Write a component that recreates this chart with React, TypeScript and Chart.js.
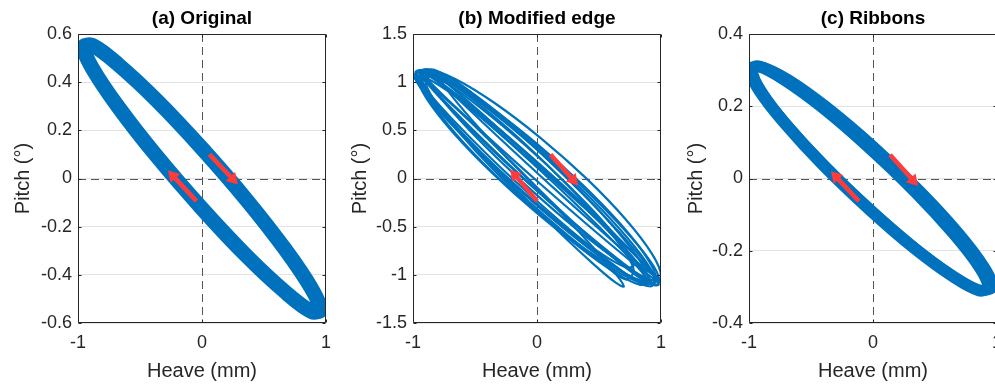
import React, { useEffect, useRef } from "react";
import { Chart, registerables } from "chart.js";
Chart.register(...registerables);

type Pt = [number, number];

const heaveTicks = [-1, 0, 1];
const pitchTicksA = [-0.6, -0.4, -0.2, 0, 0.2, 0.4, 0.6];
const pitchTicksB = [-1.5, -1, -0.5, 0, 0.5, 1, 1.5];
const pitchTicksC = [-0.4, -0.2, 0, 0.2, 0.4];

const titles = ["(a) Original", "(b) Modified edge", "(c) Ribbons"];
const xLabel = "Heave (mm)";
const yLabel = "Pitch (°)";

// (a) Original
const loopA1: Pt[] = [[0.955,-0.545],[0.882,-0.456],[0.675,-0.297],[0.366,-0.093],[0,0.125],[-0.366,0.325],[-0.675,0.473],[-0.882,0.552],[-0.955,0.545],[-0.882,0.456],[-0.675,0.297],[-0.366,0.093],[0,-0.125],[0.366,-0.325],[0.675,-0.473],[0.882,-0.552]];
const loopA2: Pt[] = [[0.96,-0.55],[0.887,-0.468],[0.679,-0.315],[0.368,-0.114],[0,0.105],[-0.368,0.308],[-0.679,0.463],[-0.887,0.548],[-0.96,0.55],[-0.887,0.468],[-0.679,0.315],[-0.368,0.114],[0,-0.105],[0.368,-0.308],[0.679,-0.463],[0.887,-0.548]];

// (b) Modified edge
const loopB1: Pt[] = [[1.0,-1.01],[0.926,-0.779],[0.716,-0.425],[0.402,-0.004],[0.03,0.42],[-0.342,0.784],[-0.656,1.031],[-0.866,1.125],[-0.94,1.05],[-0.866,0.819],[-0.656,0.465],[-0.342,0.044],[0.03,-0.38],[0.402,-0.744],[0.716,-0.991],[0.926,-1.085]];
const loopB2: Pt[] = [[0.95,-1.06],[0.878,-0.863],[0.672,-0.532],[0.364,-0.117],[0,0.32],[-0.364,0.711],[-0.672,0.996],[-0.878,1.133],[-0.95,1.1],[-0.878,0.903],[-0.672,0.572],[-0.364,0.157],[0,-0.28],[0.364,-0.671],[0.672,-0.956],[0.878,-1.093]];
const loopB3: Pt[] = [[0.88,-1.05],[0.809,-0.886],[0.608,-0.586],[0.306,-0.199],[-0.05,0.22],[-0.406,0.605],[-0.708,0.898],[-0.909,1.054],[-0.98,1.05],[-0.909,0.886],[-0.708,0.586],[-0.406,0.199],[-0.05,-0.22],[0.306,-0.605],[0.608,-0.898],[0.809,-1.054]];
const loopB4: Pt[] = [[0.98,-1.1],[0.907,-0.959],[0.699,-0.672],[0.388,-0.282],[0.02,0.15],[-0.348,0.56],[-0.659,0.884],[-0.867,1.073],[-0.94,1.1],[-0.867,0.959],[-0.659,0.672],[-0.348,0.282],[0.02,-0.15],[0.388,-0.56],[0.699,-0.884],[0.907,-1.073]];
const loopB5: Pt[] = [[0.9,-1.06],[0.832,-0.858],[0.636,-0.529],[0.345,-0.122],[0,0.3],[-0.345,0.674],[-0.636,0.941],[-0.832,1.064],[-0.9,1.02],[-0.832,0.818],[-0.636,0.489],[-0.345,0.082],[0,-0.34],[0.345,-0.714],[0.636,-0.981],[0.832,-1.104]];
const loopB6: Pt[] = [[1.0,-1.08],[0.926,-0.965],[0.716,-0.701],[0.402,-0.327],[0.03,0.1],[-0.342,0.515],[-0.656,0.855],[-0.866,1.067],[-0.94,1.12],[-0.866,1.005],[-0.656,0.741],[-0.342,0.367],[0.03,-0.06],[0.402,-0.475],[0.716,-0.815],[0.926,-1.027]];
const loopB7: Pt[] = [[0.78,-0.9],[0.713,-0.728],[0.522,-0.43],[0.237,-0.052],[-0.1,0.35],[-0.437,0.714],[-0.722,0.984],[-0.913,1.12],[-0.98,1.1],[-0.913,0.928],[-0.722,0.63],[-0.437,0.252],[-0.1,-0.15],[0.237,-0.514],[0.522,-0.784],[0.713,-0.92]];
const loopB8: Pt[] = [[0.7,-1.12],[0.635,-0.99],[0.451,-0.713],[0.176,-0.33],[-0.15,0.1],[-0.476,0.512],[-0.751,0.843],[-0.935,1.042],[-1.0,1.08],[-0.935,0.95],[-0.751,0.673],[-0.476,0.29],[-0.15,-0.14],[0.176,-0.552],[0.451,-0.883],[0.635,-1.082]];
const loopB9: Pt[] = [[0.98,-1.1],[0.913,-0.941],[0.722,-0.643],[0.437,-0.249],[0.1,0.18],[-0.237,0.579],[-0.522,0.885],[-0.713,1.055],[-0.78,1.06],[-0.713,0.901],[-0.522,0.603],[-0.237,0.209],[0.1,-0.22],[0.437,-0.619],[0.722,-0.925],[0.913,-1.095]];
const loopB10: Pt[] = [[0.98,-1.03],[0.909,-0.849],[0.705,-0.532],[0.4,-0.13],[0.04,0.3],[-0.32,0.69],[-0.625,0.98],[-0.829,1.129],[-0.9,1.11],[-0.829,0.929],[-0.625,0.612],[-0.32,0.21],[0.04,-0.22],[0.4,-0.61],[0.705,-0.9],[0.909,-1.049]];
const loopB11: Pt[] = [[0.89,-1.06],[0.82,-0.931],[0.62,-0.656],[0.322,-0.276],[-0.03,0.15],[-0.382,0.558],[-0.68,0.886],[-0.88,1.083],[-0.95,1.12],[-0.88,0.991],[-0.68,0.716],[-0.382,0.336],[-0.03,-0.09],[0.322,-0.498],[0.62,-0.826],[0.82,-1.023]];
const loopB12: Pt[] = [[0.96,-1.04],[0.887,-0.823],[0.679,-0.48],[0.368,-0.065],[0,0.36],[-0.368,0.731],[-0.679,0.99],[-0.887,1.099],[-0.96,1.04],[-0.887,0.823],[-0.679,0.48],[-0.368,0.065],[0,-0.36],[0.368,-0.731],[0.679,-0.99],[0.887,-1.099]];
const loopB13: Pt[] = [[0.95,-1.01],[0.882,-0.91],[0.686,-0.664],[0.395,-0.31],[0.05,0.1],[-0.295,0.502],[-0.586,0.834],[-0.782,1.048],[-0.85,1.11],[-0.782,1.01],[-0.586,0.764],[-0.295,0.41],[0.05,0.0],[0.395,-0.402],[0.686,-0.734],[0.882,-0.948]];
const loopB14: Pt[] = [[0.93,-1.11],[0.858,-0.949],[0.652,-0.647],[0.344,-0.246],[-0.02,0.19],[-0.384,0.596],[-0.692,0.909],[-0.898,1.083],[-0.97,1.09],[-0.898,0.929],[-0.692,0.627],[-0.384,0.226],[-0.02,-0.21],[0.344,-0.616],[0.652,-0.929],[0.858,-1.103]];
const loopB15: Pt[] = [[0.78,-0.96],[0.715,-0.775],[0.528,-0.463],[0.249,-0.072],[-0.08,0.34],[-0.409,0.71],[-0.688,0.979],[-0.875,1.109],[-0.94,1.08],[-0.875,0.895],[-0.688,0.583],[-0.409,0.192],[-0.08,-0.22],[0.249,-0.59],[0.528,-0.879],[0.715,-1.049]];

// (c) Ribbons
const loopC1: Pt[] = [[0.93,-0.3],[0.857,-0.244],[0.649,-0.152],[0.338,-0.036],[-0.03,0.085],[-0.398,0.194],[-0.709,0.272],[-0.917,0.31],[-0.99,0.3],[-0.917,0.244],[-0.709,0.152],[-0.398,0.036],[-0.03,-0.085],[0.338,-0.194],[0.649,-0.272],[0.857,-0.31]];
const loopC3: Pt[] = [[0.98,-0.3],[0.906,-0.242],[0.696,-0.147],[0.382,-0.03],[0.01,0.092],[-0.362,0.2],[-0.676,0.277],[-0.886,0.312],[-0.96,0.3],[-0.886,0.242],[-0.676,0.147],[-0.362,0.03],[0.01,-0.092],[0.382,-0.2],[0.696,-0.277],[0.906,-0.312]];
const loopC2: Pt[] = [[0.955,-0.305],[0.882,-0.253],[0.675,-0.163],[0.366,-0.048],[0,0.075],[-0.366,0.186],[-0.675,0.269],[-0.882,0.311],[-0.955,0.305],[-0.882,0.253],[-0.675,0.163],[-0.366,0.048],[0,-0.075],[0.366,-0.186],[0.675,-0.269],[0.882,-0.311]];

// arrows: [x1, y1, x2 (tip), y2 (tip)]
const arrowsA = [[0.06, 0.10, 0.29, -0.025], [-0.045, -0.094, -0.275, 0.034]];
const arrowsB = [[0.109, 0.249, 0.331, -0.073], [0.002, -0.235, -0.217, 0.093]];
const arrowsC = [[0.137, 0.066, 0.363, -0.021], [-0.114, -0.063, -0.339, 0.02]];

const BLUE = "#0072BD";
const LIGHT = "rgba(120,178,228,0.85)";
const RED = "#ff3b3b";
const FONT = '"Liberation Sans", Arial, Helvetica, sans-serif';
const TEXT = "#262626";

type LoopSpec = { pts: Pt[]; width: number; color: string };
type PanelSpec = {
  left: number;
  title: string;
  yTicks: number[];
  loops: LoopSpec[];
  arrows: number[][];
  yTitlePad: number;
};

const panels: PanelSpec[] = [
  {
    left: 0, title: titles[0], yTicks: pitchTicksA, arrows: arrowsA, yTitlePad: 11,
    loops: [{ pts: loopA1, width: 15, color: BLUE }, { pts: loopA2, width: 1, color: LIGHT }],
  },
  {
    left: 335, title: titles[1], yTicks: pitchTicksB, arrows: arrowsB, yTitlePad: 13,
    loops: [loopB1, loopB2, loopB3, loopB4, loopB5, loopB6, loopB7, loopB8, loopB9, loopB10, loopB11, loopB12, loopB13, loopB14, loopB15].map((p) => ({ pts: p, width: 2.2, color: BLUE })),
  },
  {
    left: 671, title: titles[2], yTicks: pitchTicksC, arrows: arrowsC, yTitlePad: 13,
    loops: [
      { pts: loopC1, width: 12, color: BLUE },
      { pts: loopC3, width: 8, color: BLUE },
      { pts: loopC2, width: 1, color: LIGHT },
    ],
  },
];

const W = 340;
const H = 387;

function Panel({ spec }: { spec: PanelSpec }) {
  const ref = useRef<HTMLCanvasElement | null>(null);
  useEffect(() => {
    if (!ref.current) return;
    const yMin = spec.yTicks[0];
    const yMax = spec.yTicks[spec.yTicks.length - 1];
    const decor = {
      id: "decor",
      afterDatasetsUpdate(chart: any) {
        chart.data.datasets.forEach((_: any, i: number) => {
          const el: any = chart.getDatasetMeta(i).dataset;
          if (el) {
            el._loop = true;
            el._fullLoop = true;
          }
        });
      },
      beforeDatasetsDraw(chart: any) {
        const { ctx, chartArea: a, scales } = chart;
        const x0 = Math.round(scales.x.getPixelForValue(0)) + 0.5;
        const y0 = Math.round(scales.y.getPixelForValue(0)) + 0.5;
        ctx.save();
        ctx.strokeStyle = "#555555";
        ctx.lineWidth = 1;
        ctx.setLineDash([8, 5]);
        ctx.beginPath();
        ctx.moveTo(x0, a.top);
        ctx.lineTo(x0, a.bottom);
        ctx.moveTo(a.left, y0);
        ctx.lineTo(a.right, y0);
        ctx.stroke();
        ctx.restore();
      },
      afterDatasetsDraw(chart: any) {
        const { ctx, scales } = chart;
        ctx.save();
        ctx.strokeStyle = RED;
        ctx.fillStyle = RED;
        ctx.lineWidth = 4.5;
        ctx.lineCap = "butt";
        spec.arrows.forEach(([x1, y1, x2, y2]) => {
          const px1 = scales.x.getPixelForValue(x1);
          const py1 = scales.y.getPixelForValue(y1);
          const px2 = scales.x.getPixelForValue(x2);
          const py2 = scales.y.getPixelForValue(y2);
          const dx = px2 - px1;
          const dy = py2 - py1;
          const len = Math.hypot(dx, dy);
          const ux = dx / len;
          const uy = dy / len;
          const hl = 11;
          const hw = 6.5;
          const bx = px2 - ux * hl;
          const by = py2 - uy * hl;
          ctx.beginPath();
          ctx.moveTo(px1, py1);
          ctx.lineTo(bx + ux * 1, by + uy * 1);
          ctx.stroke();
          ctx.beginPath();
          ctx.moveTo(px2, py2);
          ctx.lineTo(bx - uy * hw, by + ux * hw);
          ctx.lineTo(bx + uy * hw, by - ux * hw);
          ctx.closePath();
          ctx.fill();
        });
        ctx.restore();
      },
      afterDraw(chart: any) {
        const { ctx, chartArea: a, scales } = chart;
        ctx.save();
        ctx.strokeStyle = TEXT;
        ctx.lineWidth = 1;
        ctx.setLineDash([]);
        const l = Math.round(a.left) + 0.5;
        const r = Math.round(a.right) - 0.5;
        const t = Math.round(a.top) + 0.5;
        const b = Math.round(a.bottom) - 0.5;
        ctx.beginPath();
        ctx.rect(l, t, r - l, b - t);
        const tk = 3;
        spec.yTicks.forEach((v) => {
          const py = Math.round(scales.y.getPixelForValue(v)) + 0.5;
          ctx.moveTo(l, py);
          ctx.lineTo(l + tk, py);
          ctx.moveTo(r, py);
          ctx.lineTo(r - tk, py);
        });
        heaveTicks.forEach((v) => {
          const px = Math.round(scales.x.getPixelForValue(v)) + 0.5;
          ctx.moveTo(px, t);
          ctx.lineTo(px, t + tk);
          ctx.moveTo(px, b);
          ctx.lineTo(px, b - tk);
        });
        ctx.stroke();
        ctx.fillStyle = "#000000";
        ctx.font = `bold 19px ${FONT}`;
        ctx.textAlign = "center";
        ctx.textBaseline = "middle";
        ctx.fillText(spec.title, (a.left + a.right) / 2, 19);
        ctx.restore();
      },
    };

    const chart = new Chart(ref.current, {
      type: "line",
      data: {
        datasets: spec.loops.map((lp) => ({
          data: lp.pts.map(([x, y]) => ({ x, y })),
          borderColor: lp.color,
          borderWidth: lp.width,
          pointRadius: 0,
          pointHoverRadius: 0,
          tension: 0.35,
          fill: false,
          clip: 0,
        })),
      },
      options: {
        animation: false,
        responsive: false,
        maintainAspectRatio: false,
        events: [],
        layout: { padding: { left: 0, right: 10, top: 34, bottom: 0 } },
        plugins: {
          legend: { display: false },
          tooltip: { enabled: false },
          title: { display: false },
        },
        scales: {
          x: {
            type: "linear",
            min: -1,
            max: 1,
            afterBuildTicks: (s: any) => {
              s.ticks = heaveTicks.map((v) => ({ value: v }));
            },
            afterFit: (s: any) => {
              s.height = 64;
            },
            ticks: {
              autoSkip: false,
              maxRotation: 0,
              padding: 9,
              color: TEXT,
              font: { family: FONT, size: 18 },
              callback: (v: any) => String(v),
            },
            grid: { display: false, drawTicks: false },
            border: { display: false },
            title: {
              display: true,
              text: xLabel,
              color: TEXT,
              font: { family: FONT, size: 20 },
              padding: { top: 0, bottom: 3.5 },
            },
          },
          y: {
            type: "linear",
            min: yMin,
            max: yMax,
            afterBuildTicks: (s: any) => {
              s.ticks = spec.yTicks.map((v) => ({ value: v }));
            },
            afterFit: (s: any) => {
              s.width = 78;
            },
            ticks: {
              autoSkip: false,
              padding: 6,
              color: TEXT,
              font: { family: FONT, size: 18 },
              callback: (v: any) => String(v),
            },
            grid: { color: "#e3e3e3", lineWidth: 1, drawTicks: false },
            border: { display: false },
            title: {
              display: true,
              text: yLabel,
              color: TEXT,
              font: { family: FONT, size: 20 },
              padding: { top: spec.yTitlePad, bottom: 0 },
            },
          },
        },
      },
      plugins: [decor],
    } as any);
    return () => chart.destroy();
  }, [spec]);
  return (
    <canvas
      ref={ref}
      width={W}
      height={H}
      style={{ position: "absolute", left: spec.left, top: 0, width: W, height: H }}
    />
  );
}

export default function App() {
  return (
    <div
      style={{
        position: "absolute",
        left: 0,
        top: 0,
        width: 995,
        height: 387,
        overflow: "hidden",
        background: "#ffffff",
      }}
    >
      {panels.map((p, i) => (
        <Panel key={i} spec={p} />
      ))}
    </div>
  );
}
